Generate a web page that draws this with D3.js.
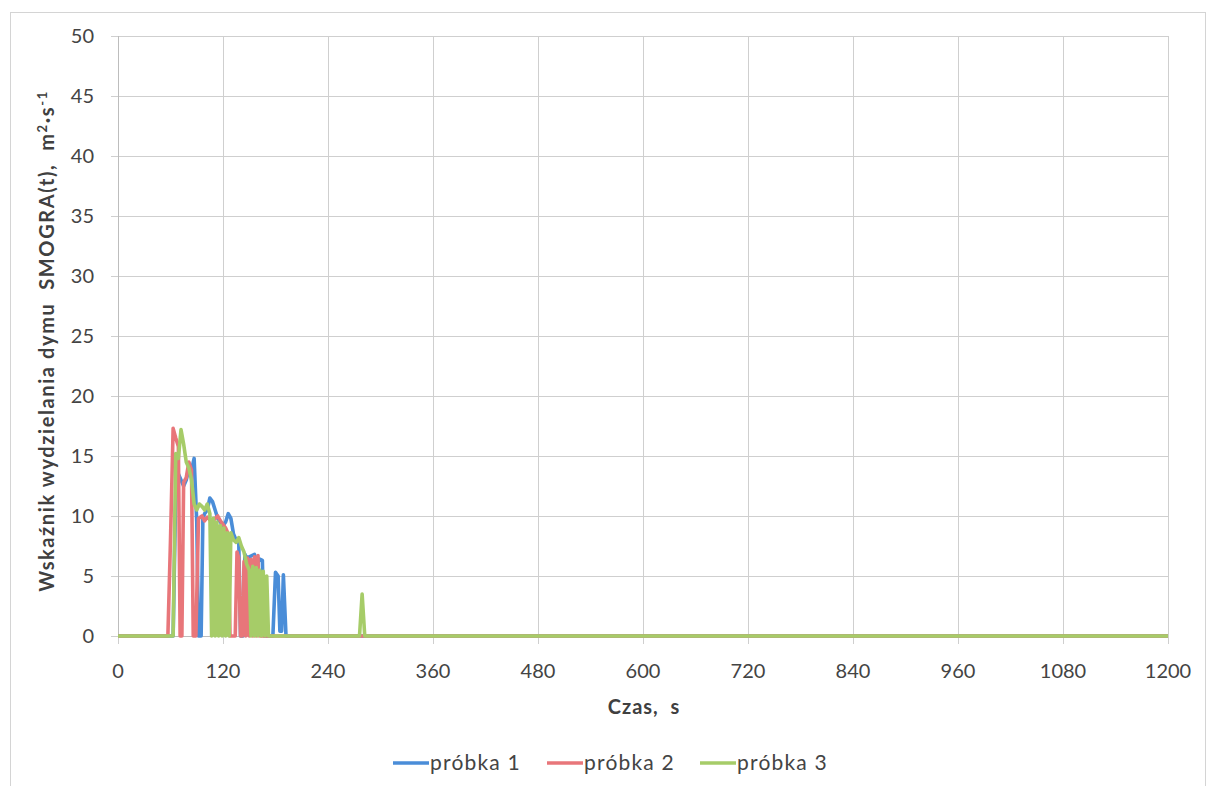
<!DOCTYPE html>
<html><head><meta charset="utf-8">
<script src="https://cdn.jsdelivr.net/npm/d3@7"></script>
<style>body{margin:0;background:#fff}svg{display:block}text{font-family:Lato,"Open Sans",sans-serif;white-space:pre}</style>
</head><body><svg id="c" width="1210" height="786"></svg>
<script>
const seriesNames = ["próbka 1","próbka 2","próbka 3"];
const colors = ["#4a8dd8","#e8767a","#a6cc68"];
const xTicks = [0,120,240,360,480,600,720,840,960,1080,1200];
const yTicks = [0,5,10,15,20,25,30,35,40,45,50];
// [time s, SMOGRA]
const s1 = [[0,0],[63,0],[66,12.0],[69,13.5],[72,13.0],[75,12.5],[78,13.0],[81,14.0],[84,13.8],[87,14.8],[90,9.5],[92,0],[95,0],[97,9.8],[99,10.2],[102,10.5],[105,11.5],[108,11.2],[111,10.5],[114,9.8],[117,9.5],[120,9.2],[123,9.5],[126,10.2],[129,9.8],[132,8.5],[135,8.0],[138,7.9],[140,0],[143,0],[145,6.8],[147,6.5],[150,6.6],[153,6.7],[156,6.8],[159,6.0],[162,6.4],[165,6.3],[167,0],[177,0],[180,5.3],[183,5.0],[185,0.4],[187,0.4],[189,5.1],[192,0],[1200,0]];
const s2 = [[0,0],[57,0],[60,8.0],[63,17.3],[66,16.5],[69,15.8],[71,0],[73,0],[75,12.8],[78,13.2],[81,14.5],[84,13.8],[86,0],[89,0],[92,9.8],[96,10.0],[99,9.6],[102,9.9],[105,9.7],[108,9.5],[111,9.8],[114,10.0],[117,9.6],[120,9.3],[123,9.0],[126,8.5],[128,0],[134,0],[136,7.0],[138,6.5],[140,0],[142,0],[144,6.2],[146,0],[148,6.5],[150,0],[152,6.4],[154,0],[156,6.6],[158,0],[160,6.7],[162,0],[1200,0]];
const s3 = [[0,0],[63,0],[66,15.2],[69,14.8],[72,17.2],[75,16.0],[78,14.5],[81,14.0],[84,13.0],[87,11.0],[90,10.5],[93,11.0],[96,10.8],[99,10.5],[102,11.0],[105,10.2],[107,0],[109,9.8],[111,0],[113,9.5],[115,0],[117,9.2],[119,0],[121,9.0],[123,0],[125,8.6],[127,0],[129,8.6],[132,8.0],[135,7.8],[138,8.2],[141,7.5],[144,7.0],[147,6.0],[150,5.5],[152,0],[154,5.8],[156,0],[158,5.7],[160,0],[162,5.5],[164,0],[166,5.4],[168,0],[170,5.0],[172,0],[276,0],[279,3.5],[282,0],[1200,0]];
const allSeries = [s1,s2,s3];

const svg = d3.select("#c");
const L=118,R=1168,T=36,B=636;
const x = d3.scaleLinear().domain([0,1200]).range([L,R]);
const y = d3.scaleLinear().domain([0,50]).range([B,T]);

svg.append("rect").attr("x",10.5).attr("y",12.5).attr("width",1195).attr("height",790).attr("fill","none").attr("stroke","#d4d4d4");

// grid
svg.append("g").selectAll("line").data(yTicks).join("line")
 .attr("x1",L-7).attr("x2",R).attr("y1",d=>y(d)+0.5).attr("y2",d=>y(d)+0.5)
 .attr("stroke","#cfcfcf").attr("stroke-width",1);
svg.append("g").selectAll("line").data(xTicks).join("line")
 .attr("x1",d=>x(d)+0.5).attr("x2",d=>x(d)+0.5).attr("y1",T).attr("y2",B+8)
 .attr("stroke","#cfcfcf").attr("stroke-width",1);
svg.append("line").attr("x1",L+0.5).attr("x2",L+0.5).attr("y1",T).attr("y2",B).attr("stroke","#bdbdbd");
svg.append("line").attr("x1",L).attr("x2",R).attr("y1",B+0.5).attr("y2",B+0.5).attr("stroke","#bdbdbd");

// tick labels
svg.append("g").selectAll("text").data(yTicks).join("text")
 .attr("x",L-24).attr("y",d=>y(d)).attr("dy","0.36em").attr("text-anchor","end")
 .attr("font-size",20).attr("fill","#444").text(d=>d);
svg.append("g").selectAll("text").data(xTicks).join("text")
 .attr("x",d=>x(d)).attr("y",B+42).attr("text-anchor","middle")
 .attr("font-size",20).attr("fill","#444").text(d=>d);

// lines
const line = d3.line().x(d=>x(d[0])).y(d=>y(d[1]));
allSeries.forEach((s,i)=>{
  svg.append("path").datum(s).attr("d",line).attr("fill","none")
   .attr("stroke",colors[i]).attr("stroke-width",3.6).attr("stroke-linejoin","round");
});

// axis titles
svg.append("text").attr("x",(L+R)/2+1).attr("y",714).attr("text-anchor","middle")
 .attr("font-size",20).attr("font-weight","bold").attr("letter-spacing",1).attr("fill","#404040").text("Czas,  s");
const yt = svg.append("text").attr("transform","translate(54,341) rotate(-90)").attr("text-anchor","middle")
 .attr("font-size",20).attr("font-weight","bold").attr("letter-spacing",1.6).attr("fill","#404040");
yt.append("tspan").text("Wskaźnik wydzielania dymu  SMOGRA(t),  m");
yt.append("tspan").attr("dy",-7).attr("font-size",13).text("2");
yt.append("tspan").attr("dy",7).text("·s");
yt.append("tspan").attr("dy",-7).attr("font-size",13).text("-1");

// legend
const lx=[393,547,700];
seriesNames.forEach((n,i)=>{
  svg.append("line").attr("x1",lx[i]).attr("x2",lx[i]+36).attr("y1",763).attr("y2",763)
   .attr("stroke",colors[i]).attr("stroke-width",3.6);
  svg.append("text").attr("x",lx[i]+37).attr("y",770).attr("font-size",21).attr("letter-spacing",1.2).attr("fill","#444").text(n);
});
</script></body></html>
